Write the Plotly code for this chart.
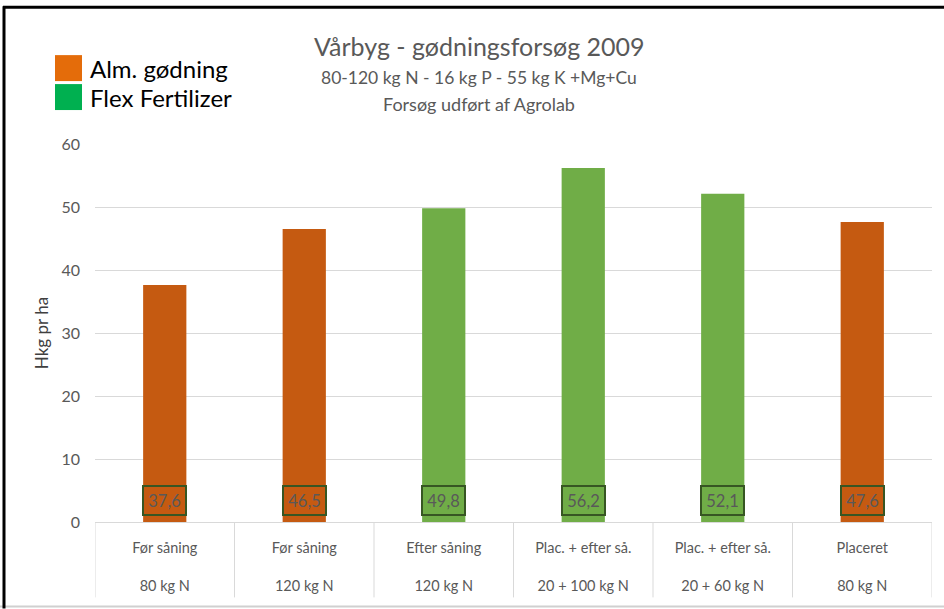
import plotly.graph_objects as go

# ---- data ----
row1_labels = ["Før såning", "Før såning", "Efter såning", "Plac. + efter så.", "Plac. + efter så.", "Placeret"]
row2_labels = ["80 kg N", "120 kg N", "120 kg N", "20 + 100 kg N", "20 + 60 kg N", "80 kg N"]
values = [37.6, 46.5, 49.8, 56.2, 52.1, 47.6]
groups = ["Alm. gødning", "Alm. gødning", "Flex Fertilizer", "Flex Fertilizer", "Flex Fertilizer", "Alm. gødning"]
y_ticks = [0, 10, 20, 30, 40, 50, 60]

bar_colors = {"Alm. gødning": "#C55A11", "Flex Fertilizer": "#70AD47"}
legend_colors = {"Alm. gødning": "#E46C0A", "Flex Fertilizer": "#00B050"}

FONT = "Lato, 'Open Sans', sans-serif"
GREY = "#595959"

W, H = 944, 609
L, R, T, B = 95, 12, 144, 86.5
PW, PH = W - L - R, H - T - B


def px(xp):
    return (xp - L) / PW


def py(yp):
    return (H - B - yp) / PH


cats = list(range(len(values)))
ticktext = [f"{a}<br><br>{b}" for a, b in zip(row1_labels, row2_labels)]

fig = go.Figure()
fig.add_trace(go.Bar(
    x=cats, y=values, width=0.31,
    marker=dict(color=[bar_colors[g] for g in groups], line=dict(width=0)),
    showlegend=False, hoverinfo="y",
))

annotations = []
for c, v in zip(cats, values):
    annotations.append(dict(
        x=c, y=3.36, xref="x", yref="y",
        text=f"{v:.1f}".replace(".", ","), showarrow=False,
        font=dict(family=FONT, size=16.5, color=GREY),
        bordercolor="#375623", borderwidth=2, borderpad=0,
        width=41, height=27,
    ))

# Title lines
annotations += [
    dict(x=px(479), y=py(46), xref="paper", yref="paper", text="Vårbyg - gødningsforsøg 2009",
         showarrow=False, font=dict(family=FONT, size=25, color=GREY), xanchor="center", yanchor="middle"),
    dict(x=px(479), y=py(77), xref="paper", yref="paper", text="80-120 kg N - 16 kg P - 55 kg K +Mg+Cu",
         showarrow=False, font=dict(family=FONT, size=17.5, color=GREY), xanchor="center", yanchor="middle"),
    dict(x=px(479), y=py(104), xref="paper", yref="paper", text="Forsøg udført af Agrolab",
         showarrow=False, font=dict(family=FONT, size=18, color=GREY), xanchor="center", yanchor="middle"),
]

shapes = []
# legend
legend_items = ["Alm. gødning", "Flex Fertilizer"]
for i, name in enumerate(legend_items):
    top = 55 + i * 29
    shapes.append(dict(type="rect", xref="paper", yref="paper",
                       x0=px(55), x1=px(82), y0=py(top), y1=py(top + 26),
                       fillcolor=legend_colors[name], line=dict(width=0)))
    annotations.append(dict(x=px(88), y=py(top + 13), xref="paper", yref="paper", text=name,
                            showarrow=False, xanchor="left", yanchor="middle",
                            font=dict(family=FONT, size=24, color="#000000")))

# category dividers
for i in range(len(values) + 1):
    shapes.append(dict(type="line", xref="x", yref="paper", x0=i - 0.5, x1=i - 0.5,
                       y0=0, y1=py(598), line=dict(color="#D9D9D9", width=1)))

# chart border
shapes.append(dict(type="line", xref="paper", yref="paper", x0=px(0), x1=px(W), y0=py(607), y1=py(607),
                   line=dict(color="#D0D0D0", width=2)))
shapes.append(dict(type="line", xref="paper", yref="paper", x0=px(4), x1=px(4), y0=py(6), y1=py(H),
                   line=dict(color="#000000", width=3)))
shapes.append(dict(type="line", xref="paper", yref="paper", x0=px(3), x1=px(W), y0=py(7), y1=py(7),
                   line=dict(color="#000000", width=3)))

fig.update_layout(
    width=W, height=H,
    margin=dict(l=L, r=R, t=T, b=B),
    paper_bgcolor="white", plot_bgcolor="white",
    font=dict(family=FONT, color=GREY),
    annotations=annotations, shapes=shapes,
    showlegend=False,
)
fig.update_xaxes(
    type="linear", range=[-0.5, len(values) - 0.5],
    tickmode="array", tickvals=cats, ticktext=ticktext,
    showgrid=False, zeroline=False, showline=True, linecolor="#D9D9D9", linewidth=1,
    ticks="", tickfont=dict(family=FONT, size=14.5, color=GREY),
    ticklabelstandoff=13,
)
fig.update_yaxes(
    range=[0, 60], tickmode="array", tickvals=y_ticks,
    showgrid=True, gridcolor="#D9D9D9", gridwidth=1, zeroline=False, showline=False,
    ticks="", tickfont=dict(family=FONT, size=16, color=GREY), ticklabelstandoff=14,
    title=dict(text="Hkg pr ha", font=dict(family=FONT, size=17, color="#404040"), standoff=8),
)

fig.write_html("out.html", config={"displayModeBar": False},
               post_script="document.body.style.margin='0';document.body.style.overflow='hidden';")
